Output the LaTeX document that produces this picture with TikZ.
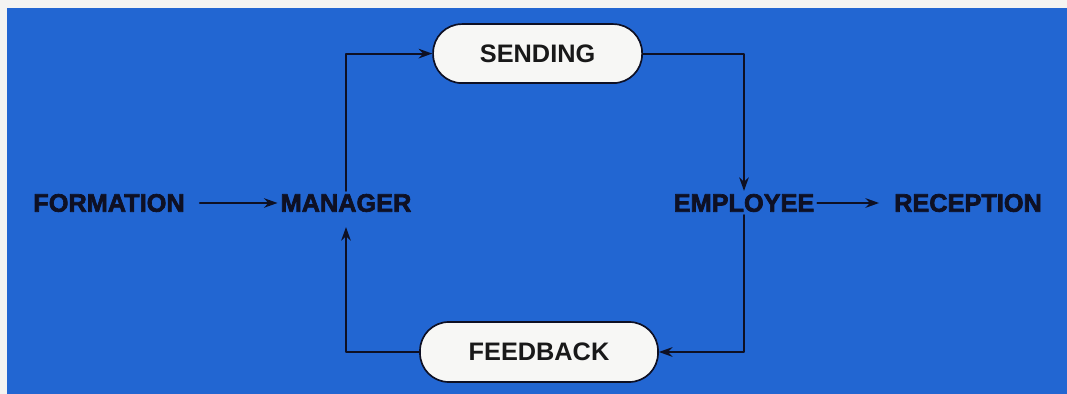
\documentclass[tikz,border=0pt]{standalone}
\usepackage{fontspec}
\setsansfont{Liberation Sans}
\newfontfamily\heavyfont{Liberation Sans Bold}[FakeBold=2.6]
\usepackage{tikz}
\usetikzlibrary{arrows.meta, positioning}
\definecolor{cmpaper}{HTML}{F4F4F2}
\definecolor{cmblue}{HTML}{2266D2}
\definecolor{cmink}{HTML}{0E1024}
\definecolor{cmbox}{HTML}{F7F7F5}

\begin{document}
\begin{tikzpicture}[
  x=1cm, y=1cm,
  line cap=round, line join=round,
  word/.style={font=\heavyfont\fontsize{18}{20}\selectfont, text=cmink, inner sep=2pt},
  pill/.style={draw=cmink, line width=1.2pt, fill=cmbox, rounded corners=0.72cm,
               font=\sffamily\bfseries\fontsize{18}{20}\selectfont, text=black!90},
  flow/.style={draw=cmink, line width=1.4pt, -{Stealth[length=3.4mm, width=2.4mm]}},
]
\fill[cmpaper] (0,0) rectangle (26.675,9.85);
\useasboundingbox (0,0) rectangle (26.675,9.85);
\fill[cmblue] (0.175,0) rectangle (26.675,9.65);

% labels on the middle row
\node[word] (formation) at (2.725,4.775) {FORMATION};
\node[word] (manager)   at (8.65,4.775)  {MANAGER};
\node[word] (employee)  at (18.6,4.775)  {EMPLOYEE};
\node[word] (reception) at (24.2,4.775)  {RECEPTION};

% the two rounded boxes
\node[pill, minimum width=5.225cm, minimum height=1.475cm] (sending)  at (13.44,8.51) {SENDING};
\node[pill, minimum width=5.95cm,  minimum height=1.5cm]   (feedback) at (13.475,1.05) {FEEDBACK};

% connectors
\draw[flow, shorten <=0.3cm] (formation) -- (manager);
\draw[flow, shorten >=0.3cm] (employee) -- (reception);
\draw[flow] (manager.north) |- (sending.west);
\draw[flow] (sending.east) -| (employee.north);
\draw[flow] (employee.south) |- (feedback.east);
\draw[flow, shorten >=0.3cm] (feedback.west) -| (manager.south);
\end{tikzpicture}
\end{document}
